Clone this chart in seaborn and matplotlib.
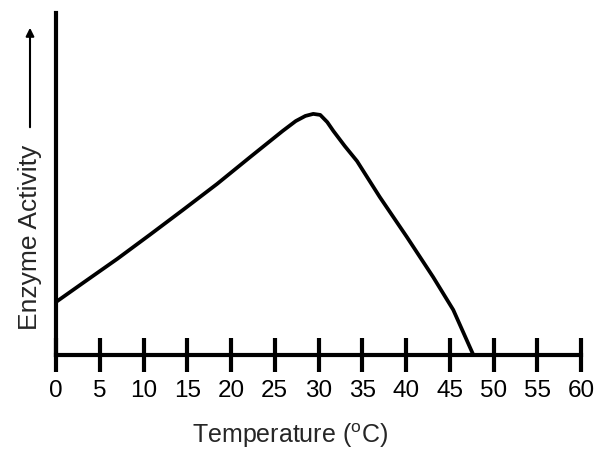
import matplotlib
matplotlib.use("Agg")
import matplotlib.pyplot as plt
import seaborn as sns
import pandas as pd

# Data
temperature = [0, 3.1, 7.0, 10.7, 14.5, 18.4, 22.2, 25.9, 27.4, 28.5, 29.4,
               30.2, 31.0, 31.7, 33.0, 34.4, 37.0, 40.1, 43.1, 45.4, 47.7]
activity = [15.5, 21.1, 28.1, 35.1, 42.4, 50.0, 57.9, 65.5, 68.4, 69.9, 70.5,
            70.2, 68.1, 65.5, 61.1, 56.7, 46.2, 34.5, 22.8, 13.2, 0.0]
xticks = [0, 5, 10, 15, 20, 25, 30, 35, 40, 45, 50, 55, 60]

sns.set_style("white")
plt.rcParams['font.family'] = ['Liberation Sans', 'DejaVu Sans']
plt.rcParams['mathtext.fontset'] = 'custom'
plt.rcParams['mathtext.rm'] = 'Liberation Sans'

fig = plt.figure(figsize=(6.01, 4.54), dpi=100)
W, H = 601, 454
ax = fig.add_axes([56 / W, (H - 355) / H, 525 / W, (355 - 13) / H])

df = pd.DataFrame({"Temperature": temperature, "Activity": activity})
sns.lineplot(data=df, x="Temperature", y="Activity", color="black",
             linewidth=2.7, ax=ax, sort=False,
             solid_joinstyle='round', solid_capstyle='round')

ax.set_xlim(0, 60)
ax.set_ylim(0, 100)
ax.set_xlabel("")
ax.set_ylabel("")
ax.set_yticks([])
ax.set_xticks(xticks)
ax.set_xticklabels([str(t) for t in xticks], fontsize=17.5)
ax.tick_params(axis='x', direction='inout', length=24, width=3, pad=6,
               colors='black', bottom=True)

for s in ['top', 'right']:
    ax.spines[s].set_visible(False)
for s in ['bottom', 'left']:
    ax.spines[s].set_linewidth(3)
    ax.spines[s].set_color('black')

fig.text(290 / W, 1 - 436 / H, r"Temperature ($^{\mathrm{o}}$C)", ha='center',
         va='center', fontsize=18)
fig.text(30 / W, 1 - 237 / H, "Enzyme Activity", rotation=90, ha='center',
         va='center', fontsize=19)
fig.add_artist(matplotlib.patches.FancyArrowPatch(
    (30 / W, 1 - 130 / H), (30 / W, 1 - 25 / H), transform=fig.transFigure,
    arrowstyle='-|>', mutation_scale=12, linewidth=1.5, color='black'))

fig.savefig("out.png", dpi=100)
